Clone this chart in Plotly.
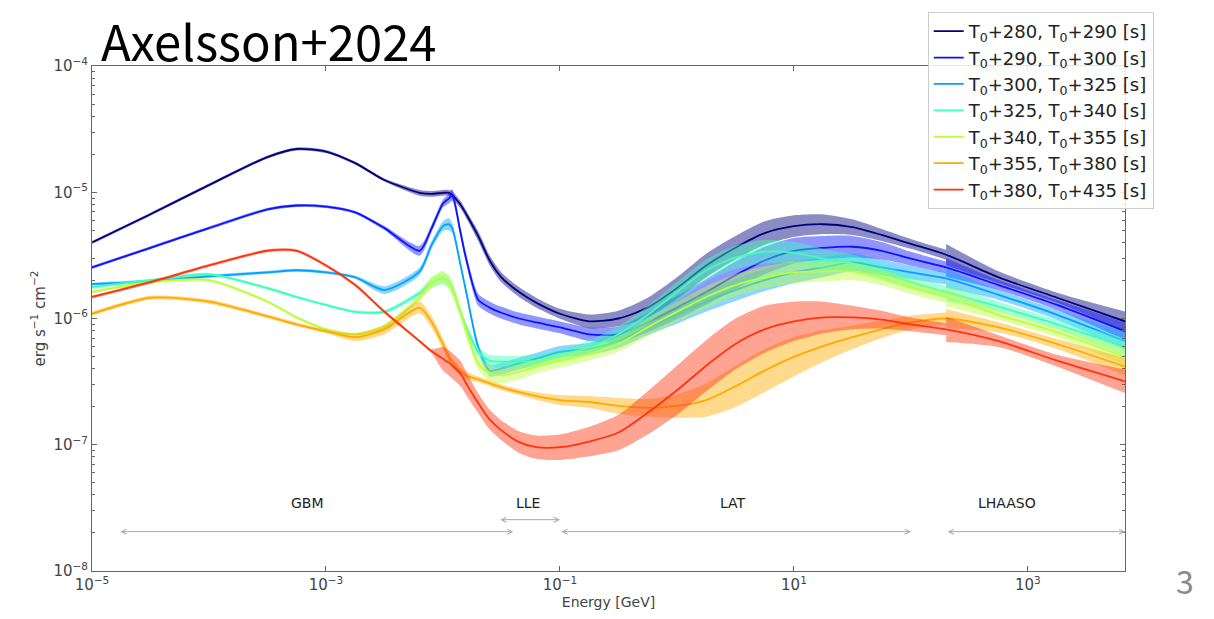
import numpy as np
import plotly.graph_objects as go

# Energy grid [GeV]
energy = [1e-5, 3.16e-5, 1e-4, 3.16e-4, 5.62e-4, 1e-3, 1.78e-3, 3.16e-3, 6.31e-3, 7.94e-3,
          1.0e-2, 1.12e-2, 1.2e-2, 1.41e-2, 1.58e-2, 2.0e-2, 2.51e-2, 3.16e-2, 4.47e-2, 6.31e-2,
          0.1, 0.178, 0.316, 0.562, 1.0, 1.78, 3.16, 5.62, 10, 17.8,
          31.6, 56.2, 100, 200, 562, 1780, 6760]
N_MAIN = 34  # points of the GBM/LLE/LAT model (up to 200 GeV); LHAASO model from index 33

labels = ["T<sub>0</sub>+280, T<sub>0</sub>+290 [s]",
          "T<sub>0</sub>+290, T<sub>0</sub>+300 [s]",
          "T<sub>0</sub>+300, T<sub>0</sub>+325 [s]",
          "T<sub>0</sub>+325, T<sub>0</sub>+340 [s]",
          "T<sub>0</sub>+340, T<sub>0</sub>+355 [s]",
          "T<sub>0</sub>+355, T<sub>0</sub>+380 [s]",
          "T<sub>0</sub>+380, T<sub>0</sub>+435 [s]"]

# nuFnu flux [erg s^-1 cm^-2]
flux_280_290 = [4.0e-6, 6.7e-6, 1.14e-5, 1.9e-5, 2.2e-5, 2.1e-5, 1.7e-5, 1.25e-5, 9.9e-6, 9.7e-6,
                9.9e-6, 9.9e-6, 9.5e-6, 8.0e-6, 6.7e-6, 4.5e-6, 2.88e-6, 2.12e-6, 1.62e-6, 1.33e-6,
                1.09e-6, 9.5e-7, 1.0e-6, 1.22e-6, 1.74e-6, 2.63e-6, 3.63e-6, 4.75e-6, 5.39e-6, 5.58e-6,
                5.29e-6, 4.59e-6, 3.9e-6, 3.2e-6, 2.12e-6, 1.46e-6, 9.5e-7]
flux_290_300 = [2.54e-6, 3.63e-6, 5.2e-6, 7.31e-6, 7.85e-6, 7.7e-6, 6.92e-6, 5.2e-6, 3.44e-6, 5.1e-6,
                8.14e-6, 8.9e-6, 9.5e-6, 4.84e-6, 2.96e-6, 1.41e-6, 1.22e-6, 1.11e-6, 1.0e-6, 9.3e-7,
                8.51e-7, 7.5e-7, 7.5e-7, 9.3e-7, 1.22e-6, 1.62e-6, 2.2e-6, 2.88e-6, 3.44e-6, 3.63e-6,
                3.7e-6, 3.44e-6, 2.98e-6, 2.54e-6, 1.84e-6, 1.28e-6, 7.92e-7]
flux_300_325 = [1.87e-6, 1.98e-6, 2.16e-6, 2.32e-6, 2.41e-6, 2.32e-6, 2.12e-6, 1.68e-6, 2.36e-6, 3.77e-6,
                5.39e-6, 5.58e-6, 5.2e-6, 2.68e-6, 1.62e-6, 5.95e-7, 3.87e-7, 4.01e-7, 4.39e-7, 4.8e-7,
                5.44e-7, 5.74e-7, 6.62e-7, 8.51e-7, 1.07e-6, 1.36e-6, 1.68e-6, 2.01e-6, 2.32e-6, 2.54e-6,
                2.78e-6, 2.54e-6, 2.32e-6, 2.08e-6, 1.54e-6, 1.07e-6, 6.62e-7]
flux_325_340 = [1.77e-6, 2.01e-6, 2.24e-6, 1.74e-6, 1.48e-6, 1.28e-6, 1.13e-6, 1.13e-6, 1.59e-6, 1.91e-6,
                2.08e-6, 1.94e-6, 1.74e-6, 1.13e-6, 8.51e-7, 5.44e-7, 4.63e-7, 4.55e-7, 4.55e-7, 4.63e-7,
                5.06e-7, 5.95e-7, 7.5e-7, 1.07e-6, 1.62e-6, 2.41e-6, 3.04e-6, 3.38e-6, 3.32e-6, 2.98e-6,
                2.73e-6, 2.32e-6, 1.94e-6, 1.62e-6, 1.24e-6, 8.98e-7, 5.95e-7]
flux_340_355 = [1.62e-6, 1.94e-6, 2.01e-6, 1.36e-6, 1.02e-6, 8.21e-7, 7.5e-7, 8.51e-7, 1.46e-6, 1.91e-6,
                2.12e-6, 1.94e-6, 1.71e-6, 1.13e-6, 7.92e-7, 4.39e-7, 3.67e-7, 3.54e-7, 3.8e-7, 4.16e-7,
                4.63e-7, 5.25e-7, 6.28e-7, 8.51e-7, 1.13e-6, 1.48e-6, 1.84e-6, 2.12e-6, 2.32e-6, 2.36e-6,
                2.36e-6, 2.12e-6, 1.77e-6, 1.48e-6, 1.07e-6, 7.78e-7, 4.97e-7]
flux_355_380 = [1.09e-6, 1.46e-6, 1.36e-6, 1.04e-6, 8.98e-7, 7.92e-7, 7.11e-7, 8.21e-7, 1.22e-6, 9.48e-7,
                6.28e-7, 4.97e-7, 4.47e-7, 3.8e-7, 3.54e-7, 3.29e-7, 3.06e-7, 2.85e-7, 2.61e-7, 2.43e-7,
                2.26e-7, 2.18e-7, 2.03e-7, 1.96e-7, 2.03e-7, 2.26e-7, 2.9e-7, 3.87e-7, 4.97e-7, 6.05e-7,
                7.11e-7, 8.21e-7, 9.3e-7, 1.0e-6, 8.51e-7, 6.28e-7, 4.16e-7]
flux_380_435 = [1.48e-6, 1.94e-6, 2.63e-6, 3.44e-6, 3.44e-6, 2.63e-6, 1.84e-6, 1.13e-6, 6.62e-7, 5.53e-7,
                4.8e-7, 4.47e-7, 4.23e-7, 3.67e-7, 3.06e-7, 2.14e-7, 1.58e-7, 1.3e-7, 1.05e-7, 9.56e-8,
                9.56e-8, 1.06e-7, 1.25e-7, 1.79e-7, 2.7e-7, 4.23e-7, 6.28e-7, 8.21e-7, 9.48e-7, 1.02e-6,
                1.02e-6, 9.8e-7, 8.98e-7, 8.21e-7, 6.62e-7, 4.63e-7, 3.18e-7]

# 1-sigma half width of the model bands, in dex (GBM/LLE/LAT model, first 34 points)
band_280_290 = [0.012] * 8 + [0.023, 0.023, 0.023, 0.023, 0.03, 0.03, 0.03, 0.039, 0.039, 0.039,
                              0.039, 0.039, 0.039, 0.054, 0.062, 0.078, 0.086, 0.093, 0.093, 0.093,
                              0.086, 0.078, 0.062, 0.047, 0.039, 0.039]
band_290_300 = [0.012] * 7 + [0.016, 0.039, 0.031, 0.031, 0.039, 0.047, 0.039, 0.039, 0.047, 0.047,
                              0.047, 0.047, 0.047, 0.047, 0.054, 0.062, 0.078, 0.093, 0.101, 0.109,
                              0.109, 0.101, 0.093, 0.086, 0.07, 0.054, 0.047]
band_300_325 = [0.012] * 7 + [0.031, 0.031, 0.031, 0.039, 0.047, 0.039, 0.031, 0.031, 0.031, 0.047,
                              0.047, 0.047, 0.047, 0.047, 0.047, 0.054, 0.062, 0.07, 0.078, 0.086,
                              0.086, 0.086, 0.078, 0.07, 0.062, 0.054, 0.047]
band_325_340 = [0.012] * 7 + [0.016, 0.023, 0.039, 0.047, 0.047, 0.047, 0.039, 0.039, 0.039, 0.047,
                              0.047, 0.047, 0.047, 0.047, 0.054, 0.062, 0.07, 0.078, 0.086, 0.093,
                              0.093, 0.086, 0.078, 0.07, 0.062, 0.054, 0.047]
band_340_355 = [0.012] * 7 + [0.023, 0.031, 0.047, 0.054, 0.054, 0.054, 0.047, 0.047, 0.047, 0.062,
                              0.062, 0.062, 0.054, 0.054, 0.054, 0.062, 0.07, 0.078, 0.086, 0.086,
                              0.086, 0.086, 0.078, 0.07, 0.062, 0.054, 0.047]
band_355_380 = [0.016] * 6 + [0.031, 0.039, 0.047, 0.047, 0.047, 0.039, 0.039, 0.031, 0.031, 0.023,
                              0.023, 0.023, 0.023, 0.031, 0.039, 0.047, 0.062, 0.07, 0.093, 0.132,
                              0.163, 0.171, 0.156, 0.125, 0.093, 0.07, 0.054, 0.047]
band_380_435 = [0.012] * 9 + [0.016, 0.093, 0.101, 0.101, 0.101, 0.093, 0.078, 0.078, 0.078, 0.086,
                              0.093, 0.101, 0.117, 0.14, 0.171, 0.195, 0.202, 0.202, 0.187, 0.156,
                              0.125, 0.093, 0.07, 0.054, 0.047]

# LHAASO model band half widths (dex) on 200 GeV .. 6.8 TeV
lh_band_280_290 = [0.085, 0.047, 0.04, 0.078]
lh_band_290_300 = [0.075, 0.04, 0.04, 0.07]
lh_band_300_325 = [0.075, 0.04, 0.04, 0.07]
lh_band_325_340 = [0.075, 0.04, 0.04, 0.07]
lh_band_340_355 = [0.075, 0.04, 0.04, 0.07]
lh_band_355_380 = [0.075, 0.04, 0.04, 0.07]
lh_band_380_435 = [0.1, 0.047, 0.047, 0.093]

colors = ["#00007f", "#0a14ff", "#00a2ff", "#3dffba", "#baff3d", "#ffaa00", "#ff3410"]

# Instrument energy ranges [GeV]
instr_names = ["GBM", "LLE", "LAT", "LHAASO"]
instr_lo = [1.7e-5, 0.03, 0.1, 200]
instr_hi = [0.04, 0.1, 100, 6800]
instr_label_x = [7.0e-4, 0.053, 3.0, 660]

fluxes = [flux_280_290, flux_290_300, flux_300_325, flux_325_340, flux_340_355, flux_355_380, flux_380_435]
bands = [band_280_290, band_290_300, band_300_325, band_325_340, band_340_355, band_355_380, band_380_435]
lh_bands = [lh_band_280_290, lh_band_290_300, lh_band_300_325, lh_band_325_340,
            lh_band_340_355, lh_band_355_380, lh_band_380_435]


def rgba(hexc, a):
    h = hexc.lstrip("#")
    return "rgba(%d,%d,%d,%.2f)" % (int(h[0:2], 16), int(h[2:4], 16), int(h[4:6], 16), a)


E = np.array(energy)
fig = go.Figure()
SM = 0.7
for k, (f, w, wl, c, lab) in enumerate(zip(fluxes, bands, lh_bands, colors, labels)):
    f = np.array(f)
    w = np.array(w)
    wl = np.array(wl)
    segs = [(E[:N_MAIN], f[:N_MAIN], w), (E[N_MAIN - 1:], f[N_MAIN - 1:], wl)]
    for xe, fe, we in segs:
        fig.add_trace(go.Scatter(x=xe, y=fe * 10 ** (-we), mode="lines",
                                 line=dict(width=0, color=c, shape="spline", smoothing=SM),
                                 showlegend=False, hoverinfo="skip", legendgroup="g%d" % k))
        fig.add_trace(go.Scatter(x=xe, y=fe * 10 ** we, mode="lines", fill="tonexty",
                                 fillcolor=rgba(c, 0.45),
                                 line=dict(width=0, color=c, shape="spline", smoothing=SM),
                                 showlegend=False, hoverinfo="skip", legendgroup="g%d" % k))
    fig.add_trace(go.Scatter(x=E, y=f, mode="lines", name=lab, legendgroup="g%d" % k,
                             line=dict(width=1.8, color=c, shape="spline", smoothing=SM)))

annotations = []
arrow_y = [2.05e-8, 2.55e-8, 2.05e-8, 2.05e-8]
for name, lo, hi, lx, ay in zip(instr_names, instr_lo, instr_hi, instr_label_x, arrow_y):
    annotations.append(dict(x=np.log10(hi), y=np.log10(ay), ax=np.log10(lo), ay=np.log10(ay),
                            xref="x", yref="y", axref="x", ayref="y", text="",
                            showarrow=True, arrowhead=5, startarrowhead=5, arrowside="end+start",
                            arrowsize=1, startarrowsize=1, arrowwidth=1, arrowcolor="#a8a8a8",
                            standoff=0, startstandoff=0))
    annotations.append(dict(x=np.log10(lx), y=np.log10(3.45e-8), xref="x", yref="y", text=name,
                            showarrow=False, font=dict(family="DejaVu Sans", size=14, color="#222"),
                            xanchor="center", yanchor="middle"))

annotations.append(dict(x=0.0065, y=1.052, xref="paper", yref="paper", text="Axelsson+2024",
                        showarrow=False, xanchor="left", yanchor="middle",
                        font=dict(family="Noto Sans CJK JP", size=49, color="#000")))
annotations.append(dict(x=1.058, y=-0.018, xref="paper", yref="paper", text="3",
                        showarrow=False, xanchor="center", yanchor="middle",
                        font=dict(family="Noto Sans CJK JP", size=32, color="#8a8a8a")))

y_minor = [m * 10.0 ** p for p in range(-8, -4) for m in range(2, 10)]

axis_col = "#666"
fig.update_layout(
    width=1214, height=619,
    margin=dict(l=92, r=89, t=57, b=48),
    paper_bgcolor="white", plot_bgcolor="white",
    annotations=annotations,
    showlegend=True,
    legend=dict(x=0.809, y=1.107, xanchor="left", yanchor="top", traceorder="normal",
                bgcolor="rgba(255,255,255,0.85)", bordercolor="#cccccc", borderwidth=1,
                font=dict(family="DejaVu Sans", size=18, color="#222"),
                tracegroupgap=6),
    xaxis=dict(type="log", range=[-5, 3.83], showgrid=False, zeroline=False,
               showline=True, linecolor=axis_col, linewidth=1, mirror="allticks",
               ticks="inside", ticklen=5, tickcolor=axis_col,
               tickvals=[1e-5, 1e-3, 1e-1, 1e1, 1e3],
               ticktext=["10<sup>−5</sup>", "10<sup>−3</sup>", "10<sup>−1</sup>", "10<sup>1</sup>", "10<sup>3</sup>"],
               tickfont=dict(family="DejaVu Sans", size=15, color="#444"),
               title=dict(text="Energy [GeV]", font=dict(family="DejaVu Sans", size=14, color="#444"), standoff=4)),
    yaxis=dict(type="log", range=[-8, -4], showgrid=False, zeroline=False,
               showline=True, linecolor=axis_col, linewidth=1, mirror="allticks",
               ticks="inside", ticklen=5, tickcolor=axis_col,
               tickvals=[1e-8, 1e-7, 1e-6, 1e-5, 1e-4],
               ticktext=["10<sup>−8</sup>", "10<sup>−7</sup>", "10<sup>−6</sup>", "10<sup>−5</sup>", "10<sup>−4</sup>"],
               tickfont=dict(family="DejaVu Sans", size=15, color="#444"),
               minor=dict(tickmode="array", ticks="inside", ticklen=3, tickcolor=axis_col,
                          tickvals=y_minor, showgrid=False),
               title=dict(text="erg s<sup>−1</sup> cm<sup>−2</sup>",
                          font=dict(family="DejaVu Sans", size=15, color="#444"), standoff=4)),
)

fig.write_html("out.html")
